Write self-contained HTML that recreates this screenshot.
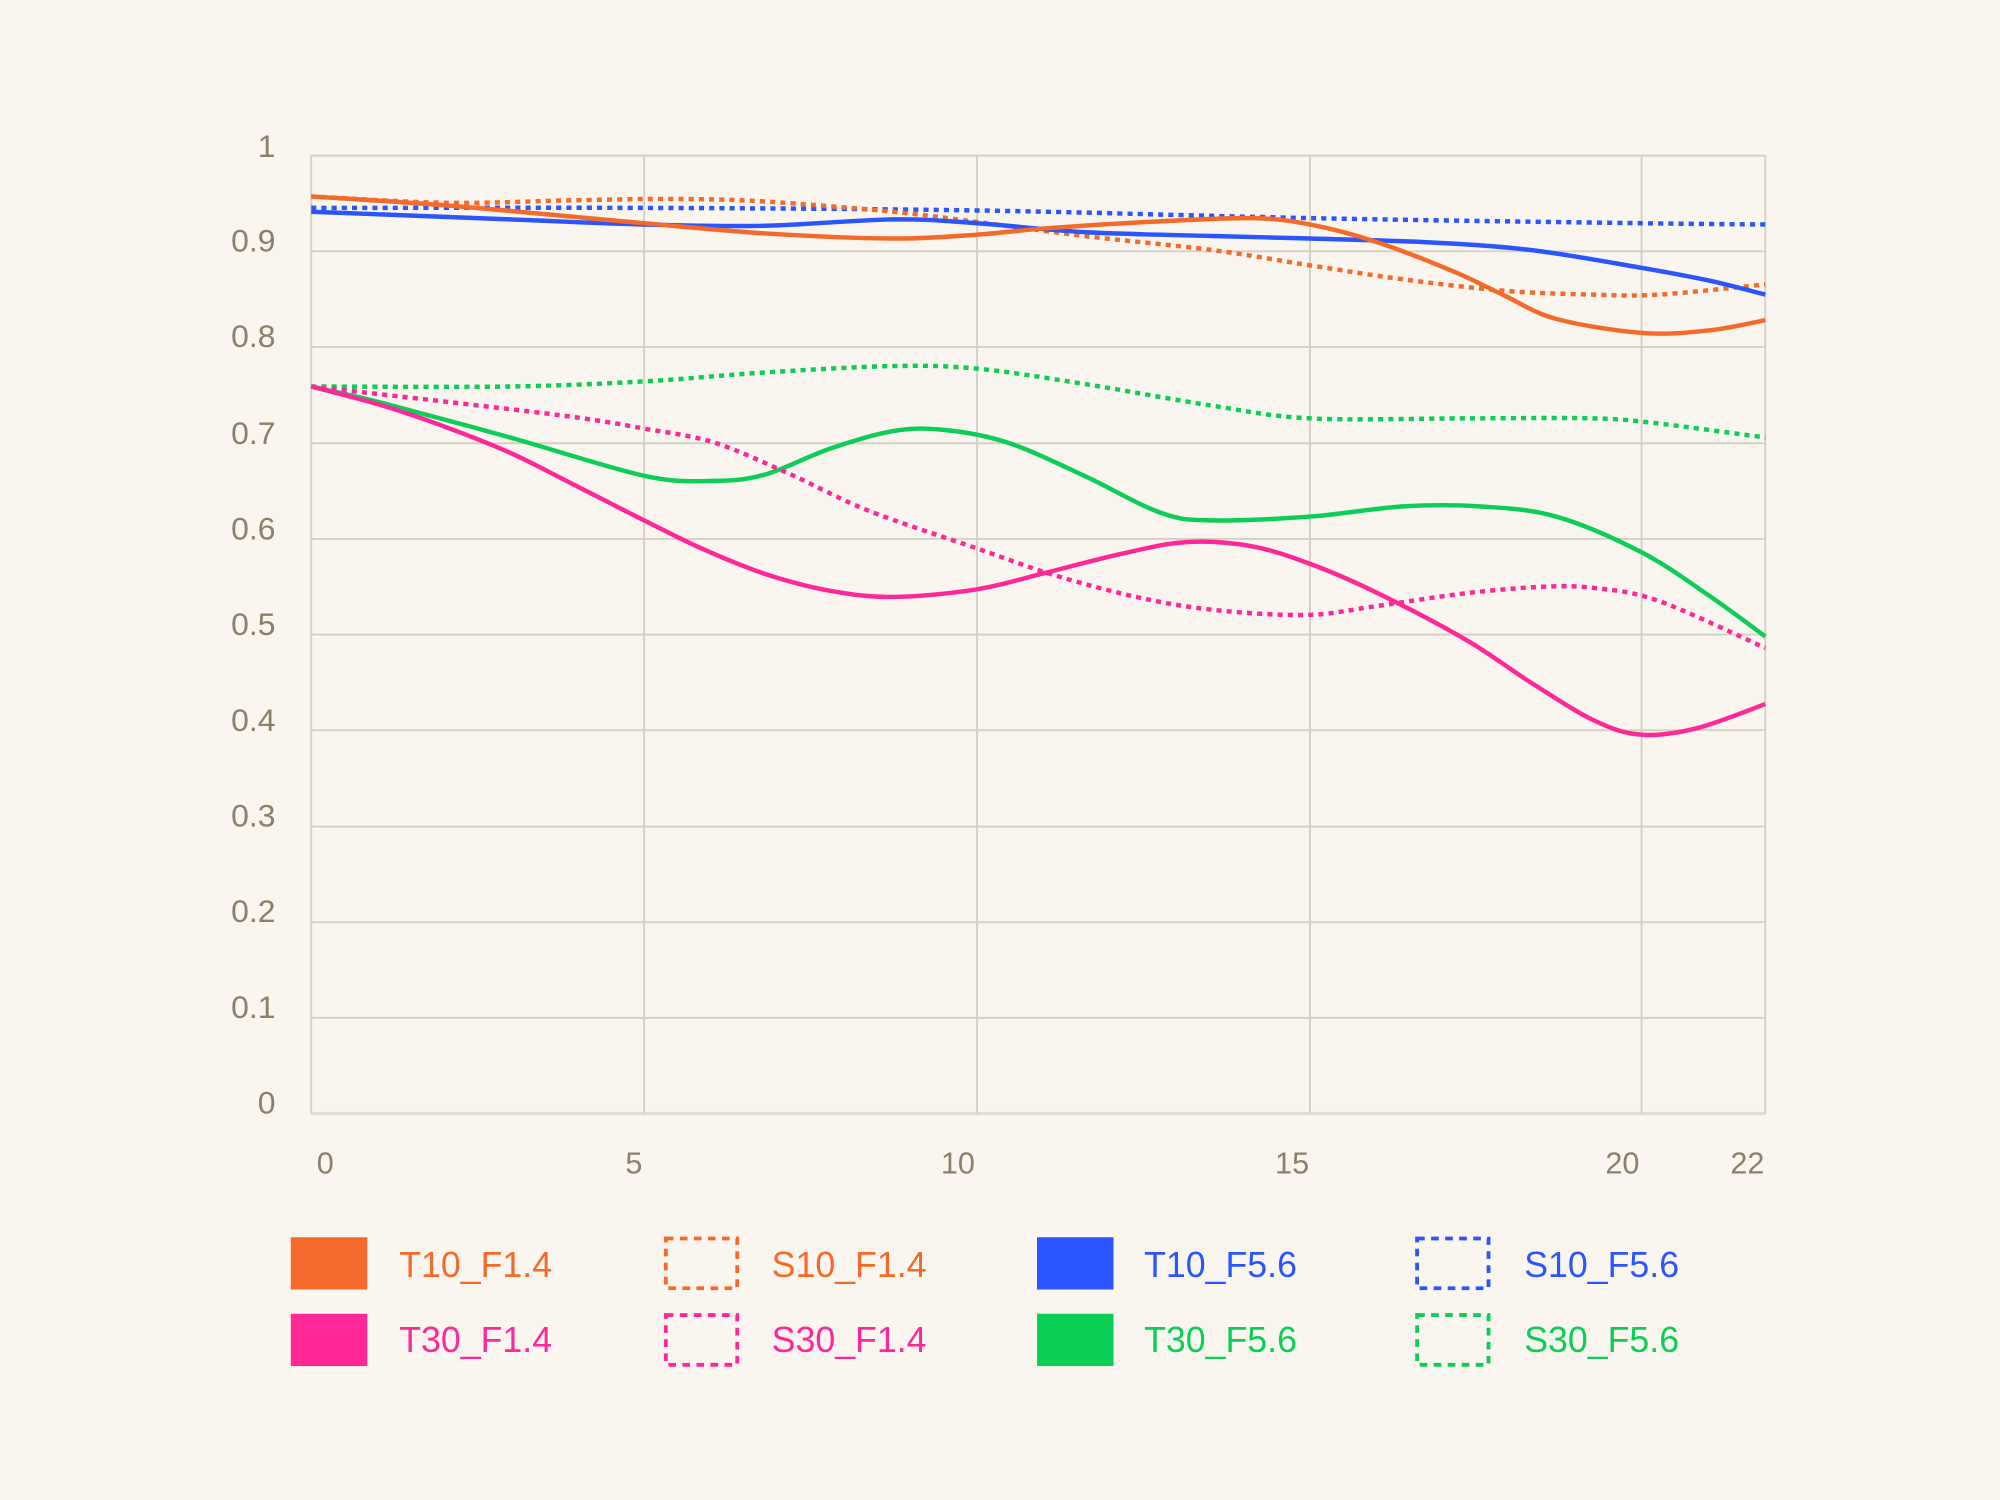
<!DOCTYPE html>
<html><head><meta charset="utf-8"><style>
html,body{margin:0;padding:0;background:#faf6ef;}
svg{display:block;}
text{font-family:"Liberation Sans",sans-serif;}
</style></head><body>
<svg width="2000" height="1500" viewBox="0 0 1568 1176" xmlns="http://www.w3.org/2000/svg">
<rect width="1568" height="1176" fill="#faf6ef"/>
<g stroke="#d6d0c4" stroke-width="1.5" fill="none">
<line x1="244" y1="122" x2="1384" y2="122"/>
<line x1="244" y1="197" x2="1384" y2="197"/>
<line x1="244" y1="272" x2="1384" y2="272"/>
<line x1="244" y1="347.5" x2="1384" y2="347.5"/>
<line x1="244" y1="422.5" x2="1384" y2="422.5"/>
<line x1="244" y1="497.5" x2="1384" y2="497.5"/>
<line x1="244" y1="572.5" x2="1384" y2="572.5"/>
<line x1="244" y1="648" x2="1384" y2="648"/>
<line x1="244" y1="723" x2="1384" y2="723"/>
<line x1="244" y1="798" x2="1384" y2="798"/>
<line x1="244" y1="873" x2="1384" y2="873" stroke-width="2.5" stroke="#e2dcd0"/>
<line x1="244" y1="122" x2="244" y2="873"/>
<line x1="505" y1="122" x2="505" y2="873"/>
<line x1="766" y1="122" x2="766" y2="873"/>
<line x1="1027" y1="122" x2="1027" y2="873"/>
<line x1="1287" y1="122" x2="1287" y2="873"/>
<line x1="1384" y1="122" x2="1384" y2="873"/>
</g>
<g fill="#8a8268" font-size="25" text-anchor="end">
<text x="216" y="123">1</text>
<text x="216" y="197">0.9</text>
<text x="216" y="272">0.8</text>
<text x="216" y="348">0.7</text>
<text x="216" y="423">0.6</text>
<text x="216" y="498">0.5</text>
<text x="216" y="573">0.4</text>
<text x="216" y="648">0.3</text>
<text x="216" y="723">0.2</text>
<text x="216" y="798">0.1</text>
<text x="216" y="873">0</text>
</g>
<g fill="#8a8268" font-size="24" text-anchor="middle">
<text x="255" y="920">0</text>
<text x="497" y="920">5</text>
<text x="751" y="920">10</text>
<text x="1013" y="920">15</text>
<text x="1272" y="920">20</text>
<text x="1370" y="920">22</text>
</g>
<g id="series" fill="none" stroke-width="3.5" stroke-linejoin="round" stroke-linecap="butt">
<polyline stroke="#2a55ff" stroke-dasharray="4 4" points="244,163 505,163 766,165 1027,171 1287,175 1384,176"/>
<polyline stroke="#f46a2a" stroke-dasharray="4 4" points="244,154 350,159 450,157 530,156 600,158 700,166 766,174 850,185 950,196 1027,208 1100,219 1180,228 1250,231 1300,231 1384,223"/>
<polyline stroke="#2a55ff" points="244,166 400,172 505,176 600,177 700,172 766,175 850,182 950,185 1027,187 1120,190 1200,196 1287,210 1340,220 1384,231"/>
<polyline stroke="#f46a2a" points="244,154 350,161 450,170 505,175 600,183 700,187 766,184 820,179 900,174 980,171 1027,176 1080,190 1140,213 1180,232 1220,250 1287,261 1340,259 1384,251"/>
<polyline stroke="#0ccd55" stroke-dasharray="4 4" points="244,303 400,303 505,299 600,292 700,287 766,289 850,301 950,318 1027,328 1150,328 1250,328 1300,332 1384,343"/>
<polyline stroke="#0ccd55" points="244,303 300,316 400,343 505,373 560,377 600,372 650,352 700,338 740,337 790,347 850,373 910,402 950,408 1027,405 1100,397 1160,397 1220,405 1287,433 1340,467 1384,499"/>
<polyline stroke="#ff2898" stroke-dasharray="4 4" points="244,303 350,315 450,327 505,336 560,347 620,372 680,400 766,430 830,452 900,470 960,479 1027,482 1080,475 1150,465 1210,460 1250,461 1300,471 1384,508"/>
<polyline stroke="#ff2898" points="244,303 300,318 350,335 400,355 450,380 505,408 550,430 600,450 650,463 700,468 766,462 820,449 880,434 930,425 980,428 1027,442 1080,465 1150,502 1200,535 1250,565 1287,576 1330,571 1384,552"/>
</g>
<g font-size="28">
<rect x="228" y="970" width="60" height="41" fill="#f46a2a"/>
<text x="313" y="1001" fill="#f46a2a">T10_F1.4</text>
<rect x="228" y="1030" width="60" height="41" fill="#ff2898"/>
<text x="313" y="1060" fill="#ff2898">T30_F1.4</text>
<rect x="522" y="971" width="56" height="39" fill="none" stroke="#f46a2a" stroke-width="3" stroke-dasharray="6 5"/>
<text x="605" y="1001" fill="#f46a2a">S10_F1.4</text>
<rect x="522" y="1031" width="56" height="39" fill="none" stroke="#ff2898" stroke-width="3" stroke-dasharray="6 5"/>
<text x="605" y="1060" fill="#ff2898">S30_F1.4</text>
<rect x="813" y="970" width="60" height="41" fill="#2a55ff"/>
<text x="897" y="1001" fill="#2a55ff">T10_F5.6</text>
<rect x="813" y="1030" width="60" height="41" fill="#0ccd55"/>
<text x="897" y="1060" fill="#0ccd55">T30_F5.6</text>
<rect x="1111" y="971" width="56" height="39" fill="none" stroke="#2a55ff" stroke-width="3" stroke-dasharray="6 5"/>
<text x="1195" y="1001" fill="#2a55ff">S10_F5.6</text>
<rect x="1111" y="1031" width="56" height="39" fill="none" stroke="#0ccd55" stroke-width="3" stroke-dasharray="6 5"/>
<text x="1195" y="1060" fill="#0ccd55">S30_F5.6</text>
</g>
</svg>
<script>
(function(){
var NS="http://www.w3.org/2000/svg";
var pls=document.querySelectorAll("#series polyline");
for(var k=0;k<pls.length;k++){
var pl=pls[k];
var pts=pl.getAttribute("points").trim().split(/\s+/).map(function(s){var a=s.split(",");return [+a[0],+a[1]];});
var d="M"+pts[0][0]+","+pts[0][1];
for(var i=0;i<pts.length-1;i++){
var p0=pts[i-1]||pts[i],p1=pts[i],p2=pts[i+1],p3=pts[i+2]||p2;
var c1x=p1[0]+(p2[0]-p0[0])/6,c1y=p1[1]+(p2[1]-p0[1])/6;
var c2x=p2[0]-(p3[0]-p1[0])/6,c2y=p2[1]-(p3[1]-p1[1])/6;
d+=" C"+c1x.toFixed(1)+","+c1y.toFixed(1)+" "+c2x.toFixed(1)+","+c2y.toFixed(1)+" "+p2[0]+","+p2[1];
}
var path=document.createElementNS(NS,"path");
path.setAttribute("d",d);
path.setAttribute("stroke",pl.getAttribute("stroke"));
if(pl.getAttribute("stroke-dasharray"))path.setAttribute("stroke-dasharray",pl.getAttribute("stroke-dasharray"));
pl.parentNode.replaceChild(path,pl);
}
})();
</script>
</body></html>
